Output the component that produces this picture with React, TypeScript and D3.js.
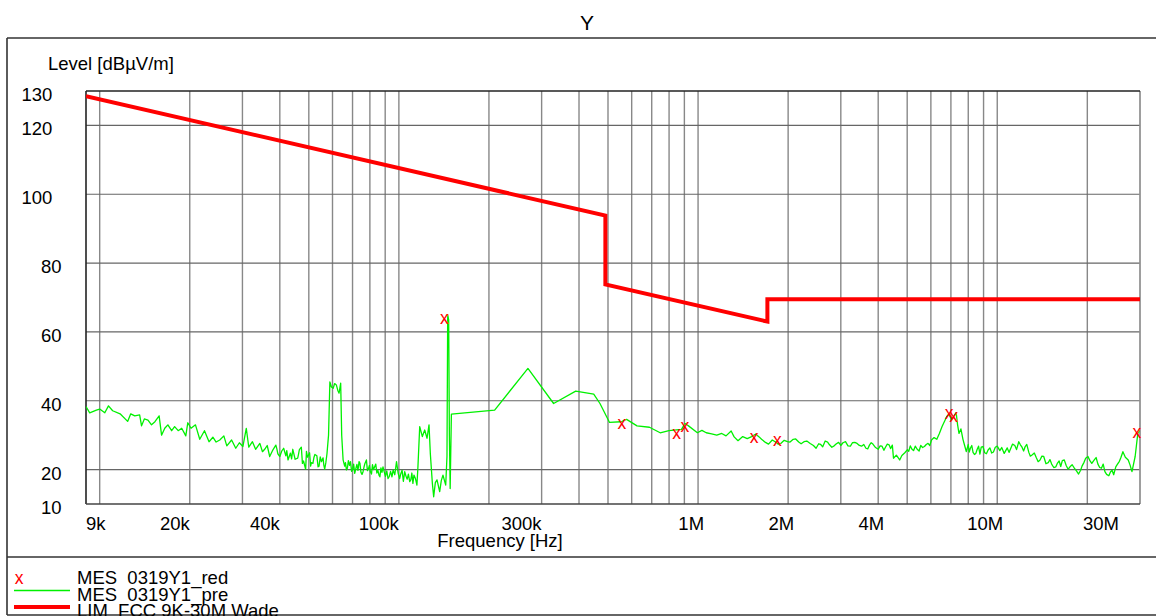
import React from 'react';
import * as d3 from 'd3';

// chart texts
const title = 'Y';
const yTitle = 'Level [dBµV/m]';
const xTitle = 'Frequency [Hz]';

// axes
const yTicks = [130, 120, 100, 80, 60, 40, 20, 10];
const yGrid = [120, 100, 80, 60, 40, 20];
const xTickValues = [9e3, 20e3, 40e3, 100e3, 300e3, 1e6, 2e6, 4e6, 10e6, 30e6];
const xTickLabels = ['9k', '20k', '40k', '100k', '300k', '1M', '2M', '4M', '10M', '30M'];

// limit line (LIM FCC 9K-30M Wade)
const limitFreq = [9e3, 490e3, 490e3, 1.705e6, 1.705e6, 30e6];
const limitLevel = [128.5, 93.8, 73.8, 63.0, 69.5, 69.5];

// final measurement points (MES 0319Y1_red), kHz / dBµV/m
const finalFreq = [142, 556, 848, 904, 1540, 1840, 6910, 7150, 29300];
const finalLevel = [63.7, 33.2, 30.4, 32.3, 29.1, 28.3, 36.2, 35.2, 30.6];

// pre-scan trace (MES 0319Y1_pre), [kHz, dBµV/m]
const preScan: [number, number][] = [
  [9.0, 38.3], [9.26, 36.5], [9.75, 37.3], [10.0, 37.6], [10.4, 36.5], [10.7, 38.5],
  [11.05, 37.1], [11.7, 36.2], [12.4, 34.0], [12.7, 36.2], [13.1, 35.6], [13.6, 35.9],
  [13.8, 32.7], [14.1, 34.7], [14.5, 34.4], [14.9, 33.0], [15.3, 33.9], [15.8, 35.6],
  [16.1, 30.0], [16.5, 32.0], [16.9, 33.0], [17.4, 31.3], [17.8, 32.5], [18.3, 31.3],
  [18.8, 32.0], [19.4, 29.8], [19.7, 33.6], [20.2, 32.0], [20.9, 33.0], [21.6, 28.8],
  [22.4, 31.3], [23.2, 28.1], [23.9, 29.4], [24.5, 28.0], [25.2, 28.6], [26.0, 29.8],
  [26.6, 26.9], [27.6, 28.6], [28.5, 26.2], [29.3, 27.8], [30.1, 26.7], [30.9, 32.0],
  [31.5, 26.5], [32.4, 28.1], [33.2, 25.9], [34.3, 27.6], [35.0, 25.2], [35.6, 25.9],
  [36.3, 27.0], [37.0, 23.8], [37.8, 25.5], [38.8, 27.1], [39.1, 26.0], [39.4, 24.6],
  [40.0, 23.8], [40.6, 25.4], [41.2, 26.2], [41.9, 24.0], [42.2, 25.5], [42.6, 22.8],
  [43.4, 24.8], [43.8, 23.1], [44.2, 25.9], [45.0, 23.0], [45.9, 23.3], [46.2, 24.5],
  [46.5, 25.8], [47.2, 26.5], [47.6, 21.8], [48.0, 22.5], [48.8, 20.1], [49.1, 25.3],
  [49.5, 23.6], [50.3, 24.9], [50.7, 21.0], [51.0, 22.0], [51.6, 21.8], [52.0, 23.5],
  [52.4, 24.4], [53.2, 24.0], [53.7, 20.8], [54.1, 21.0], [54.6, 23.7], [55.1, 22.3],
  [55.8, 23.4], [56.1, 21.4], [56.5, 20.1], [57.0, 22.0], [57.5, 24.6], [58.2, 30.0],
  [58.8, 45.5], [59.5, 44.0], [60.3, 43.6], [61.0, 45.0], [61.8, 44.6], [62.5, 43.0],
  [63.1, 42.2], [63.9, 45.1], [64.4, 30.0], [65.1, 22.8], [65.9, 21.0], [66.3, 22.0],
  [66.8, 19.9], [67.3, 20.5], [67.8, 22.6], [68.4, 21.2], [68.9, 22.3], [69.5, 19.5],
  [70.0, 20.0], [70.6, 21.6], [71.2, 18.9], [71.8, 20.3], [72.4, 21.5], [73.0, 19.8],
  [73.6, 22.3], [74.1, 21.8], [74.7, 19.2], [75.3, 18.6], [75.9, 19.4], [76.4, 20.6],
  [76.9, 21.6], [77.9, 22.8], [78.5, 19.7], [79.1, 20.2], [79.7, 21.2], [80.3, 19.4],
  [81.0, 18.7], [81.6, 21.4], [82.3, 20.0], [83.0, 20.8], [83.7, 21.6], [84.4, 19.0],
  [85.1, 19.8], [85.8, 18.4], [86.4, 17.9], [87.1, 20.5], [87.8, 19.2], [88.5, 20.8],
  [89.3, 19.4], [90.2, 18.0], [91.1, 19.6], [92.0, 17.4], [92.9, 18.0], [93.8, 19.5],
  [94.8, 17.9], [95.7, 19.9], [96.9, 18.5], [98.2, 22.3], [99.4, 19.0], [100.6, 17.4],
  [101.5, 18.8], [102.5, 19.8], [103.5, 16.6], [104.6, 19.4], [105.6, 18.1], [106.6, 17.2],
  [107.6, 18.7], [108.7, 16.5], [109.6, 17.0], [110.5, 19.0], [111.4, 16.0], [112.3, 18.4],
  [113.5, 17.5], [114.9, 15.5], [115.8, 20.8], [117.4, 32.5], [119.8, 29.6], [122.0, 31.5],
  [124.2, 29.1], [126.1, 33.0], [127.4, 24.6], [129.4, 16.0], [130.7, 12.1], [132.4, 16.2],
  [134.1, 17.0], [136.9, 13.6], [138.6, 16.8], [140.4, 18.4], [143.4, 15.5], [144.8, 23.8],
  [145.6, 65.0], [146.7, 63.5], [147.5, 30.0], [148.4, 14.5], [149.8, 36.1], [209, 37.3],
  [270, 49.4], [329, 39.2], [390, 42.8], [448, 41.9], [470, 39.2], [506, 33.7],
  [553, 33.9], [577, 34.6], [625, 32.7], [688, 32.3], [747, 30.7], [799, 31.3],
  [880, 31.7], [904, 33.4], [929, 32.7], [995, 30.7], [1030, 31.4], [1065, 30.7],
  [1110, 30.4], [1155, 30.0], [1200, 30.5], [1240, 29.8], [1290, 31.2], [1320, 29.5],
  [1360, 28.4], [1410, 29.6], [1460, 29.0], [1510, 29.6], [1560, 30.3], [1600, 29.5],
  [1630, 28.8], [1680, 27.9], [1720, 27.4], [1770, 28.6], [1810, 28.1], [1850, 27.4],
  [1890, 27.6], [1940, 28.5], [1990, 28.1], [2030, 28.0], [2080, 28.8], [2120, 28.9],
  [2170, 28.0], [2210, 27.5], [2260, 28.1], [2310, 28.3], [2370, 27.6], [2430, 27.0],
  [2480, 26.2], [2530, 27.5], [2570, 27.3], [2610, 26.6], [2660, 28.3], [2710, 28.0],
  [2750, 27.2], [2800, 26.5], [2850, 26.9], [2900, 27.5], [2950, 27.9], [3000, 27.0],
  [3050, 27.8], [3110, 28.1], [3170, 26.9], [3230, 26.8], [3280, 27.8], [3340, 27.9],
  [3400, 27.6], [3460, 27.0], [3520, 26.8], [3580, 27.3], [3640, 26.2], [3690, 26.0],
  [3740, 27.1], [3790, 27.8], [3840, 27.4], [3920, 26.4], [4000, 25.9], [4060, 26.9],
  [4120, 26.8], [4180, 25.6], [4230, 26.5], [4290, 27.4], [4350, 27.2], [4400, 26.1],
  [4460, 27.1], [4500, 23.3], [4600, 24.2], [4720, 22.8], [4800, 24.1], [4910, 24.9],
  [5010, 25.8], [5060, 25.3], [5120, 26.9], [5180, 26.0], [5250, 25.5], [5320, 26.8],
  [5400, 25.9], [5480, 25.4], [5550, 27.0], [5630, 26.4], [5710, 26.7], [5790, 27.3],
  [5870, 27.6], [5950, 27.0], [6030, 28.6], [6150, 29.3], [6280, 28.8], [6400, 30.4],
  [6540, 32.5], [6660, 34.0], [6780, 35.4], [6900, 36.0], [7040, 34.4], [7160, 35.5],
  [7290, 36.5], [7370, 33.0], [7450, 30.5], [7560, 31.8], [7680, 28.8], [7780, 27.0],
  [7880, 25.2], [8000, 27.3], [8060, 25.1], [8130, 26.2], [8220, 27.0], [8300, 25.0],
  [8390, 24.4], [8480, 24.7], [8570, 25.9], [8660, 26.8], [8750, 24.5], [8840, 26.5],
  [8960, 26.7], [9080, 24.9], [9200, 24.6], [9320, 25.7], [9450, 26.3], [9580, 24.8],
  [9710, 25.1], [9850, 26.5], [10000, 26.8], [10200, 25.5], [10350, 26.4], [10550, 24.7],
  [10800, 26.3], [10950, 25.0], [11100, 26.2], [11250, 27.4], [11450, 27.0], [11600, 25.8],
  [11800, 28.1], [11950, 27.2], [12100, 26.5], [12250, 25.4], [12400, 26.7], [12550, 27.3],
  [12750, 25.0], [12900, 23.9], [13100, 24.3], [13300, 24.8], [13500, 23.5], [13700, 22.3],
  [13900, 22.8], [14100, 23.9], [14300, 23.8], [14550, 21.7], [14800, 22.0], [15000, 22.9],
  [15200, 21.6], [15450, 20.6], [15700, 20.8], [15900, 21.9], [16100, 22.5], [16300, 20.9],
  [16500, 22.6], [16750, 22.8], [17000, 21.2], [17250, 20.1], [17500, 20.8], [17800, 21.4],
  [18100, 20.4], [18400, 19.6], [18700, 18.7], [19000, 19.8], [19200, 21.0], [19500, 22.1],
  [19750, 23.3], [20100, 23.8], [20400, 22.6], [20700, 21.8], [21100, 22.8], [21400, 23.5],
  [21700, 21.6], [22000, 20.6], [22300, 20.4], [22600, 21.6], [22900, 19.4], [23200, 18.6],
  [23600, 18.2], [23900, 19.3], [24200, 19.8], [24500, 18.5], [24900, 20.8], [25200, 21.5],
  [25600, 22.4], [25900, 23.5], [26300, 25.2], [26800, 23.6], [27400, 22.8], [27800, 21.3],
  [28200, 19.4], [28900, 23.8], [29500, 30.5], [30000, 31.5],
];

const legendNames = ['MES  0319Y1_red', 'MES  0319Y1_pre', 'LIM  FCC 9K-30M Wade'];

const W = 1156;
const H = 616;
const plot = { left: 86, right: 1140, top: 91, bottom: 504 };
const font = '"Liberation Sans", Arial, sans-serif';
const fs = 18.5;

const x = d3.scaleLog().domain([9e3, 30e6]).range([plot.left, plot.right]);
const y = d3.scaleLinear().domain([10, 130]).range([plot.bottom, plot.top]);

// vertical grid lines at every 1..9 x decade
const xGrid: number[] = [];
for (let dec = 1e4; dec <= 1e7; dec *= 10) {
  for (let m = 1; m <= 9; m++) {
    const f = m * dec;
    if (f <= 30e6) xGrid.push(f);
  }
}

const line = d3
  .line<[number, number]>()
  .x((d) => x(d[0]))
  .y((d) => y(d[1]));

export default function App() {
  const limitData = limitFreq.map((f, i) => [f, limitLevel[i]] as [number, number]);
  const preData = preScan
    .map((d) => [d[0] * 1e3, d[1]] as [number, number])
    .sort((a, b) => a[0] - b[0]);

  return (
    <svg
      width={W}
      height={H}
      style={{ position: 'absolute', left: 0, top: 0, background: '#fff', fontFamily: font }}
    >
      <defs>
        <clipPath id="plotClip">
          <rect x={plot.left} y={plot.top} width={plot.right - plot.left} height={plot.bottom - plot.top} />
        </clipPath>
      </defs>

      <text x={587} y={30} fontSize={21} textAnchor="middle" fill="#000">
        {title}
      </text>

      {/* outer frame */}
      <line x1={7} y1={38} x2={W} y2={38} stroke="#333" strokeWidth={1.6} />
      <line x1={7} y1={38} x2={7} y2={615} stroke="#333" strokeWidth={1.6} />
      <line x1={7} y1={557} x2={W} y2={557} stroke="#333" strokeWidth={1.6} />
      <line x1={7} y1={615} x2={W} y2={615} stroke="#333" strokeWidth={1.6} />

      <text x={48} y={69.5} fontSize={fs} fill="#000">
        {yTitle}
      </text>

      {/* grid */}
      {xGrid.map((f) => (
        <line key={'vx' + f} x1={x(f)} x2={x(f)} y1={plot.top} y2={plot.bottom} stroke="#888" strokeWidth={1.4} />
      ))}
      {yGrid.map((v) => (
        <line key={'hy' + v} x1={plot.left} x2={plot.right} y1={y(v)} y2={y(v)} stroke="#666" strokeWidth={1.2} />
      ))}
      <line x1={plot.right} x2={plot.right} y1={plot.top} y2={plot.bottom} stroke="#999" strokeWidth={1.4} />
      <line x1={plot.left} x2={plot.right} y1={plot.top} y2={plot.top} stroke="#222" strokeWidth={1.6} />
      <line x1={plot.left} x2={plot.left} y1={plot.top} y2={plot.bottom} stroke="#222" strokeWidth={1.6} />
      <line x1={plot.left} x2={plot.right} y1={plot.bottom} y2={plot.bottom} stroke="#444" strokeWidth={1.6} />

      {/* y tick labels */}
      {yTicks.map((v) => {
        const s = String(v);
        return (
          <text key={'yl' + v} x={80 - 19.5 * s.length} y={y(v) + 10} fontSize={fs} fill="#000">
            {s}
          </text>
        );
      })}

      {/* x tick labels */}
      {xTickValues.map((f, i) => {
        const s = xTickLabels[i];
        const w = s.length * 9.8;
        const dx = s.endsWith('M') ? 6 : 0;
        const px = Math.min(Math.max(x(f) + dx, plot.left + w), plot.right - 21);
        return (
          <text key={'xl' + s} x={px} y={530} fontSize={fs} textAnchor="end" fill="#000">
            {s}
          </text>
        );
      })}
      <text x={500} y={547} fontSize={fs} textAnchor="middle" fill="#000">
        {xTitle}
      </text>

      <g clipPath="url(#plotClip)">
        <path d={line(preData) || ''} fill="none" stroke="#00f000" strokeWidth={1.3} strokeLinejoin="round" />
        <path d={line(limitData) || ''} fill="none" stroke="#ff0000" strokeWidth={4} />
      </g>

      {finalFreq.map((f, i) => (
        <text
          key={'mk' + i}
          x={x(f * 1e3)}
          y={y(finalLevel[i]) + 5}
          fontSize={17.5}
          textAnchor="middle"
          fill="#ff0000"
        >
          x
        </text>
      ))}

      {/* legend */}
      <text x={19} y={584} fontSize={17.5} textAnchor="middle" fill="#ff0000">
        x
      </text>
      <line x1={14} x2={70} y1={590.5} y2={590.5} stroke="#00f000" strokeWidth={1.3} />
      <line x1={14} x2={70} y1={607} y2={607} stroke="#ff0000" strokeWidth={4} />
      {legendNames.map((n, i) => (
        <text key={n} x={77} y={584 + i * 16.5} fontSize={fs} fill="#000" style={{ whiteSpace: 'pre' }}>
          {n}
        </text>
      ))}
    </svg>
  );
}
